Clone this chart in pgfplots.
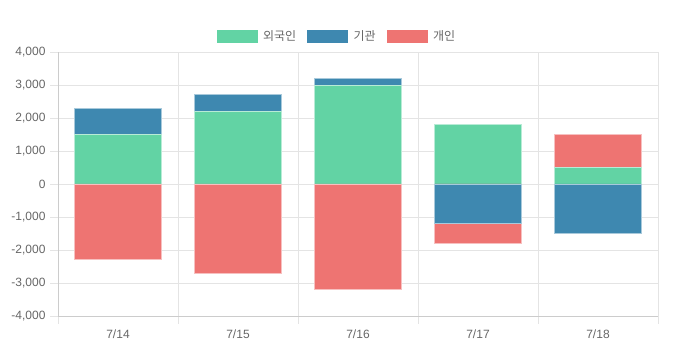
\documentclass[border=0pt]{standalone}
\usepackage{pgfplots}
\pgfplotsset{compat=1.18}
\usepackage{fontspec}
\setmainfont{Liberation Sans}
\newfontfamily\kr{Noto Sans CJK KR}
\definecolor{cg}{HTML}{62D3A4}
\definecolor{cb}{HTML}{3E88B0}
\definecolor{cr}{HTML}{EE7472}
\definecolor{txt}{HTML}{666666}
\definecolor{gridc}{HTML}{E4E4E4}
\definecolor{axc}{HTML}{CCCCCC}
\begin{document}
\begin{tikzpicture}[x=1pt,y=1pt]
\path[use as bounding box] (0,0) rectangle (680,363);
\begin{axis}[
  at={(58pt,47pt)}, anchor=south west, scale only axis,
  width=600pt, height=264pt,
  xmin=-0.5, xmax=4.5, ymin=-4000, ymax=4000,
  ybar, bar width=0.72, bar shift=0pt,
  axis lines=left, axis line style={-, draw=axc, line width=0.8pt},
  xtick={-0.5,0.5,...,4.5}, xticklabels={},
  extra x ticks={0,1,2,3,4},
  extra x tick labels={7/14,7/15,7/16,7/17,7/18},
  extra x tick style={major tick length=0pt, grid=none},
  ytick={-4000,-3000,...,4000},
  yticklabels={{-4,000},{-3,000},{-2,000},{-1,000},{0},{1,000},{2,000},{3,000},{4,000}},
  grid=major, major grid style={draw=gridc, line width=0.8pt},
  tick align=outside, major tick length=8pt,
  tick style={draw=gridc, line width=0.8pt},
  ticklabel style={font=\fontsize{12}{14}\selectfont, text=txt},
  xticklabel style={yshift=-10pt},
  yticklabel style={xshift=-1pt},
  legend style={at={(axis description cs:0.5,1)}, anchor=center, yshift=16pt, xshift=-22pt,
    draw=none, fill=none, legend columns=3,
    /tikz/every odd column/.append style={column sep=6pt},
    /tikz/every even column/.append style={column sep=11pt},
    font=\kr\fontsize{12}{14}\selectfont, text=txt,
    nodes={inner xsep=0pt}},
  clip=false,
]
\addlegendimage{legend image code/.code={\fill[cg] (0pt,-6pt) rectangle (40pt,6pt);}}
\addlegendentry{외국인}
\addlegendimage{legend image code/.code={\fill[cb] (0pt,-6pt) rectangle (40pt,6pt);}}
\addlegendentry{기관}
\addlegendimage{legend image code/.code={\fill[cr] (0pt,-6pt) rectangle (40pt,6pt);}}
\addlegendentry{개인}
% positive side, cumulative tops (drawn from top of stack down)
\addplot[fill=cr, draw=cr!45!white, line width=0.9pt, forget plot] coordinates {(4,1500)};
\addplot[fill=cb, draw=cb!45!white, line width=0.9pt, forget plot] coordinates {(0,2300) (1,2700) (2,3200)};
\addplot[fill=cg, draw=cg!45!white, line width=0.9pt, forget plot] coordinates {(0,1500) (1,2200) (2,3000) (3,1800) (4,500)};
% negative side, cumulative bottoms
\addplot[fill=cr, draw=cr!45!white, line width=0.9pt, forget plot] coordinates {(0,-2300) (1,-2700) (2,-3200) (3,-1800)};
\addplot[fill=cb, draw=cb!45!white, line width=0.9pt, forget plot] coordinates {(3,-1200) (4,-1500)};
\end{axis}
\end{tikzpicture}
\end{document}
